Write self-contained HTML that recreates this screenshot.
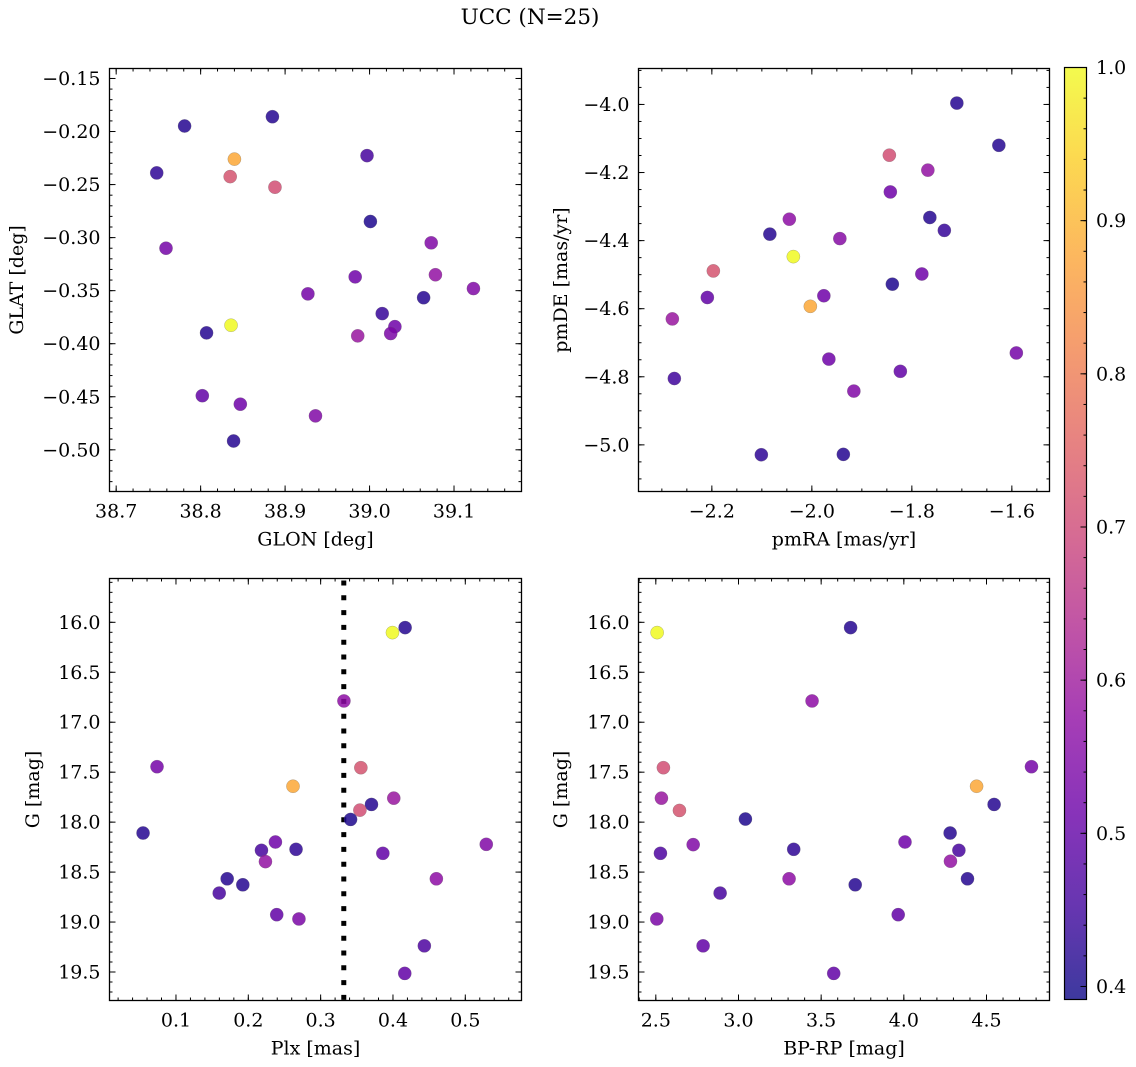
<!DOCTYPE html>
<html><head><meta charset="utf-8"><style>
html,body{margin:0;padding:0;background:#fff;}
svg{display:block;font-family:"DejaVu Serif","Liberation Serif",serif;}
</style></head>
<body>
<svg id="fig" width="1136" height="1067" viewBox="0 0 1136 1067" xmlns="http://www.w3.org/2000/svg">
<defs>
<linearGradient id="plasma" x1="0" y1="1" x2="0" y2="0">
<stop offset="0" stop-color="#0d0887"/><stop offset="0.1" stop-color="#41049d"/><stop offset="0.2" stop-color="#6a00a8"/><stop offset="0.3" stop-color="#8f0da4"/><stop offset="0.4" stop-color="#b12a90"/><stop offset="0.5" stop-color="#cc4778"/><stop offset="0.6" stop-color="#e16462"/><stop offset="0.7" stop-color="#f2844b"/><stop offset="0.8" stop-color="#fca636"/><stop offset="0.9" stop-color="#fcce25"/><stop offset="1" stop-color="#f0f921"/>
</linearGradient>
</defs>
<text x="530" y="24" text-anchor="middle" font-size="21.5">UCC (N=25)</text>
</svg>
<script>
// Panel data (top-left: GLON vs GLAT)
const tlX=[38.781,38.885,38.840,38.748,38.835,38.888,38.997,39.001,38.759,39.073,38.983,39.078,39.123,38.927,39.064,39.015,39.030,39.025,38.986,38.836,38.807,38.802,38.847,38.936,38.839];
const tlY=[-0.1948,-0.186,-0.226,-0.239,-0.2425,-0.2525,-0.2227,-0.2848,-0.310,-0.3049,-0.337,-0.335,-0.348,-0.353,-0.3566,-0.3716,-0.3839,-0.3904,-0.3926,-0.3826,-0.3898,-0.449,-0.457,-0.468,-0.4917];
const tlC=[0.42,0.42,0.88,0.43,0.72,0.71,0.46,0.41,0.53,0.55,0.52,0.58,0.55,0.53,0.42,0.44,0.52,0.54,0.59,1.0,0.42,0.50,0.52,0.55,0.42];
// top-right: pmRA vs pmDE
const trX=[-1.710,-1.626,-1.845,-1.768,-1.843,-1.764,-1.735,-2.045,-2.084,-1.944,-2.037,-2.197,-1.780,-1.839,-2.209,-1.976,-2.003,-2.279,-1.591,-1.966,-1.823,-2.275,-1.916,-2.101,-1.937];
const trY=[-3.996,-4.120,-4.149,-4.193,-4.257,-4.332,-4.370,-4.337,-4.381,-4.394,-4.447,-4.489,-4.498,-4.528,-4.567,-4.562,-4.593,-4.630,-4.730,-4.748,-4.784,-4.805,-4.842,-5.029,-5.028];
const trC=[0.42,0.42,0.71,0.58,0.52,0.42,0.44,0.57,0.42,0.56,1.0,0.72,0.52,0.41,0.50,0.52,0.88,0.59,0.53,0.52,0.50,0.45,0.55,0.43,0.42];
// bottom-left: Plx vs G
const blX=[0.4168,0.3993,0.3322,0.0738,0.3556,0.2618,0.4011,0.3703,0.3543,0.3414,0.0545,0.529,0.2375,0.2182,0.266,0.386,0.2237,0.460,0.1708,0.1924,0.1598,0.2393,0.270,0.4434,0.4163];
const blY=[16.053,16.103,16.787,17.445,17.455,17.641,17.760,17.823,17.880,17.973,18.109,18.222,18.199,18.282,18.272,18.312,18.395,18.567,18.567,18.627,18.710,18.926,18.969,19.238,19.514];
const blC=[0.42,1.0,0.57,0.53,0.72,0.88,0.59,0.42,0.71,0.41,0.42,0.55,0.52,0.46,0.43,0.50,0.58,0.57,0.42,0.42,0.46,0.50,0.54,0.47,0.50];
const plxRef=[0.332];
// bottom-right: BP-RP vs G
const brX=[2.508,3.678,3.445,2.546,4.772,4.440,2.534,4.546,2.643,3.042,4.280,4.007,2.726,3.334,4.333,2.528,4.282,3.306,4.385,3.706,2.889,3.966,2.506,2.786,3.576];
const brY=[16.103,16.053,16.787,17.455,17.445,17.641,17.760,17.823,17.883,17.969,18.109,18.199,18.225,18.272,18.282,18.312,18.391,18.567,18.567,18.627,18.710,18.926,18.969,19.238,19.514];
const brC=[1.0,0.42,0.57,0.71,0.53,0.88,0.59,0.42,0.72,0.41,0.42,0.52,0.55,0.43,0.46,0.47,0.58,0.57,0.42,0.42,0.46,0.50,0.54,0.50,0.50];
// tick labels
const tlXTicks=[38.7,38.8,38.9,39.0,39.1];
const tlYTicks=[-0.15,-0.20,-0.25,-0.30,-0.35,-0.40,-0.45,-0.50];
const trXTicks=[-2.2,-2.0,-1.8,-1.6];
const trYTicks=[-4.0,-4.2,-4.4,-4.6,-4.8,-5.0];
const blXTicks=[0.1,0.2,0.3,0.4,0.5];
const gTicks=[16.0,16.5,17.0,17.5,18.0,18.5,19.0,19.5];
const brXTicks=[2.5,3.0,3.5,4.0,4.5];
const cbTicks=[0.4,0.5,0.6,0.7,0.8,0.9,1.0];

const NS="http://www.w3.org/2000/svg";
const svg=document.getElementById('fig');
const FS=19;
function mk(tag,attrs,parent){const e=document.createElementNS(NS,tag);for(const k in attrs)e.setAttribute(k,attrs[k]);(parent||svg).appendChild(e);return e;}
const stops=[[0,[13,8,135]],[0.1,[65,4,157]],[0.2,[106,0,168]],[0.3,[143,13,164]],[0.4,[177,42,144]],[0.5,[204,71,120]],[0.6,[225,100,98]],[0.7,[242,132,75]],[0.8,[252,166,54]],[0.9,[252,206,37]],[1,[240,249,33]]];
const CMIN=0.3915,CMAX=1.0;
function cmap(v){let t=(v-CMIN)/(CMAX-CMIN);t=Math.max(0,Math.min(1,t));for(let i=0;i<stops.length-1;i++){const a=stops[i],b=stops[i+1];if(t<=b[0]){const f=(t-a[0])/(b[0]-a[0]);const c=a[1].map((x,j)=>Math.round(x+(b[1][j]-x)*f));return `rgb(${c[0]},${c[1]},${c[2]})`;}}return 'rgb(240,249,33)';}
function fmt(v,d){return (v<0?'\u2212':'')+Math.abs(v).toFixed(d);}

function panel(p){
  const g=mk('g',{});
  
  
  const sx=v=>p.x0+(v-p.xd[0])/(p.xd[1]-p.xd[0])*(p.x1-p.x0);
  const sy=v=>p.y0+(p.yd[0]-v)/(p.yd[0]-p.yd[1])*(p.y1-p.y0);
  const mt=(lo,hi,step)=>{const a=[];const s=Math.ceil(lo/step-1e-6);for(let k=s;k*step<=hi+1e-9;k++)a.push(k*step);return a;};
  const tg=mk('g',{stroke:'#000','stroke-width':1},g);
  
  
  mt(p.xd[0],p.xd[1],p.xminor).forEach(v=>{const x=sx(v);mk('line',{x1:x,x2:x,y1:p.y1,y2:p.y1-3},tg);mk('line',{x1:x,x2:x,y1:p.y0,y2:p.y0+3},tg);});
  mt(Math.min(...p.yd),Math.max(...p.yd),p.yminor).forEach(v=>{const y=sy(v);mk('line',{x1:p.x0,x2:p.x0+3,y1:y,y2:y},tg);mk('line',{x1:p.x1,x2:p.x1-3,y1:y,y2:y},tg);});
  p.xt.forEach(v=>{const x=sx(v);mk('line',{x1:x,x2:x,y1:p.y1,y2:p.y1-6},tg);mk('line',{x1:x,x2:x,y1:p.y0,y2:p.y0+6},tg);
    const t=mk('text',{x:x,y:p.y1+26,'text-anchor':'middle','font-size':FS},g);t.textContent=fmt(v,p.xdec);
    });
  p.yt.forEach(v=>{const y=sy(v);mk('line',{x1:p.x0,x2:p.x0+6,y1:y,y2:y},tg);mk('line',{x1:p.x1,x2:p.x1-6,y1:y,y2:y},tg);
    const t=mk('text',{x:p.x0-9,y:y+6.5,'text-anchor':'end','font-size':FS},g);t.textContent=fmt(v,p.ydec);
    });
  if(p.vline){const x=sx(p.vline[0]);const l=mk('line',{x1:x,x2:x,y1:p.y0+2,y2:p.y1,stroke:'#000','stroke-width':5,'stroke-dasharray':'5 9.8'},g);
    }
  p.X.forEach((v,i)=>{const c=mk('circle',{cx:sx(v),cy:sy(p.Y[i]),r:6.6,fill:cmap(p.C[i]),'fill-opacity':0.85,stroke:'#666','stroke-width':0.4,'stroke-opacity':0.6},g);
    });
  const fr=mk('rect',{x:p.x0,y:p.y0,width:p.x1-p.x0,height:p.y1-p.y0,fill:'none',stroke:'#000','stroke-width':1.3},g);
  
  const xl=mk('text',{x:(p.x0+p.x1)/2,y:p.y1+54,'text-anchor':'middle','font-size':FS},g);xl.textContent=p.xlab;
  
  const yx=p.ylx,yy=(p.y0+p.y1)/2;
  const yl=mk('text',{x:yx,y:yy,'text-anchor':'middle','font-size':FS,transform:`rotate(-90 ${yx} ${yy})`},g);yl.textContent=p.ylab;
  
}
panel({name:'glon-glat-panel',x0:109.5,x1:521.5,y0:68.5,y1:491.5,xd:[38.6921,39.1799],yd:[-0.1406,-0.5393],X:tlX,Y:tlY,C:tlC,xt:tlXTicks,yt:tlYTicks,xminor:0.02,yminor:0.01,xdec:1,ydec:2,xlab:'GLON [deg]',ylab:'GLAT [deg]',ylx:23});
panel({name:'pm-panel',x0:638.5,x1:1049.5,y0:68.5,y1:491.5,xd:[-2.3467,-1.5247],yd:[-3.8944,-5.1370],X:trX,Y:trY,C:trC,xt:trXTicks,yt:trYTicks,xminor:0.05,yminor:0.05,xdec:1,ydec:1,xlab:'pmRA [mas/yr]',ylab:'pmDE [mas/yr]',ylx:567});
panel({name:'plx-g-panel',x0:109.5,x1:521.5,y0:578.5,y1:1000.5,xd:[0.0081,0.5777],yd:[15.5616,19.7852],X:blX,Y:blY,C:blC,xt:blXTicks,yt:gTicks,xminor:0.02,yminor:0.1,xdec:1,ydec:1,xlab:'Plx [mas]',ylab:'G [mag]',ylx:39,vline:plxRef});
panel({name:'color-g-panel',x0:638.5,x1:1049.5,y0:578.5,y1:1000.5,xd:[2.3953,4.8810],yd:[15.5616,19.7852],X:brX,Y:brY,C:brC,xt:brXTicks,yt:gTicks,xminor:0.1,yminor:0.1,xdec:1,ydec:1,xlab:'BP-RP [mag]',ylab:'G [mag]',ylx:567});

// colorbar
const cb=mk('g',{});


const cbx0=1064.5,cbx1=1086.5,cby0=67.5,cby1=999.5;
mk('rect',{x:cbx0,y:cby0,width:cbx1-cbx0,height:cby1-cby0,fill:'url(#plasma)','fill-opacity':0.8},cb);
mk('rect',{x:cbx0,y:cby0,width:cbx1-cbx0,height:cby1-cby0,fill:'none',stroke:'#000','stroke-width':1.2},cb);
const cy=v=>cby1-(v-CMIN)/(CMAX-CMIN)*(cby1-cby0);
for(let k=20;k<=50;k++){const v=k*0.02;if(v<CMIN)continue;const y=cy(v);mk('line',{x1:cbx1,x2:cbx1-3,y1:y,y2:y,stroke:'#000'},cb);}
cbTicks.forEach(v=>{const y=cy(v);mk('line',{x1:cbx1,x2:cbx1-6,y1:y,y2:y,stroke:'#000'},cb);
  const t=mk('text',{x:1096,y:y+6.5,'font-size':FS},cb);t.textContent=v.toFixed(1);
  });
</script>
</body></html>
